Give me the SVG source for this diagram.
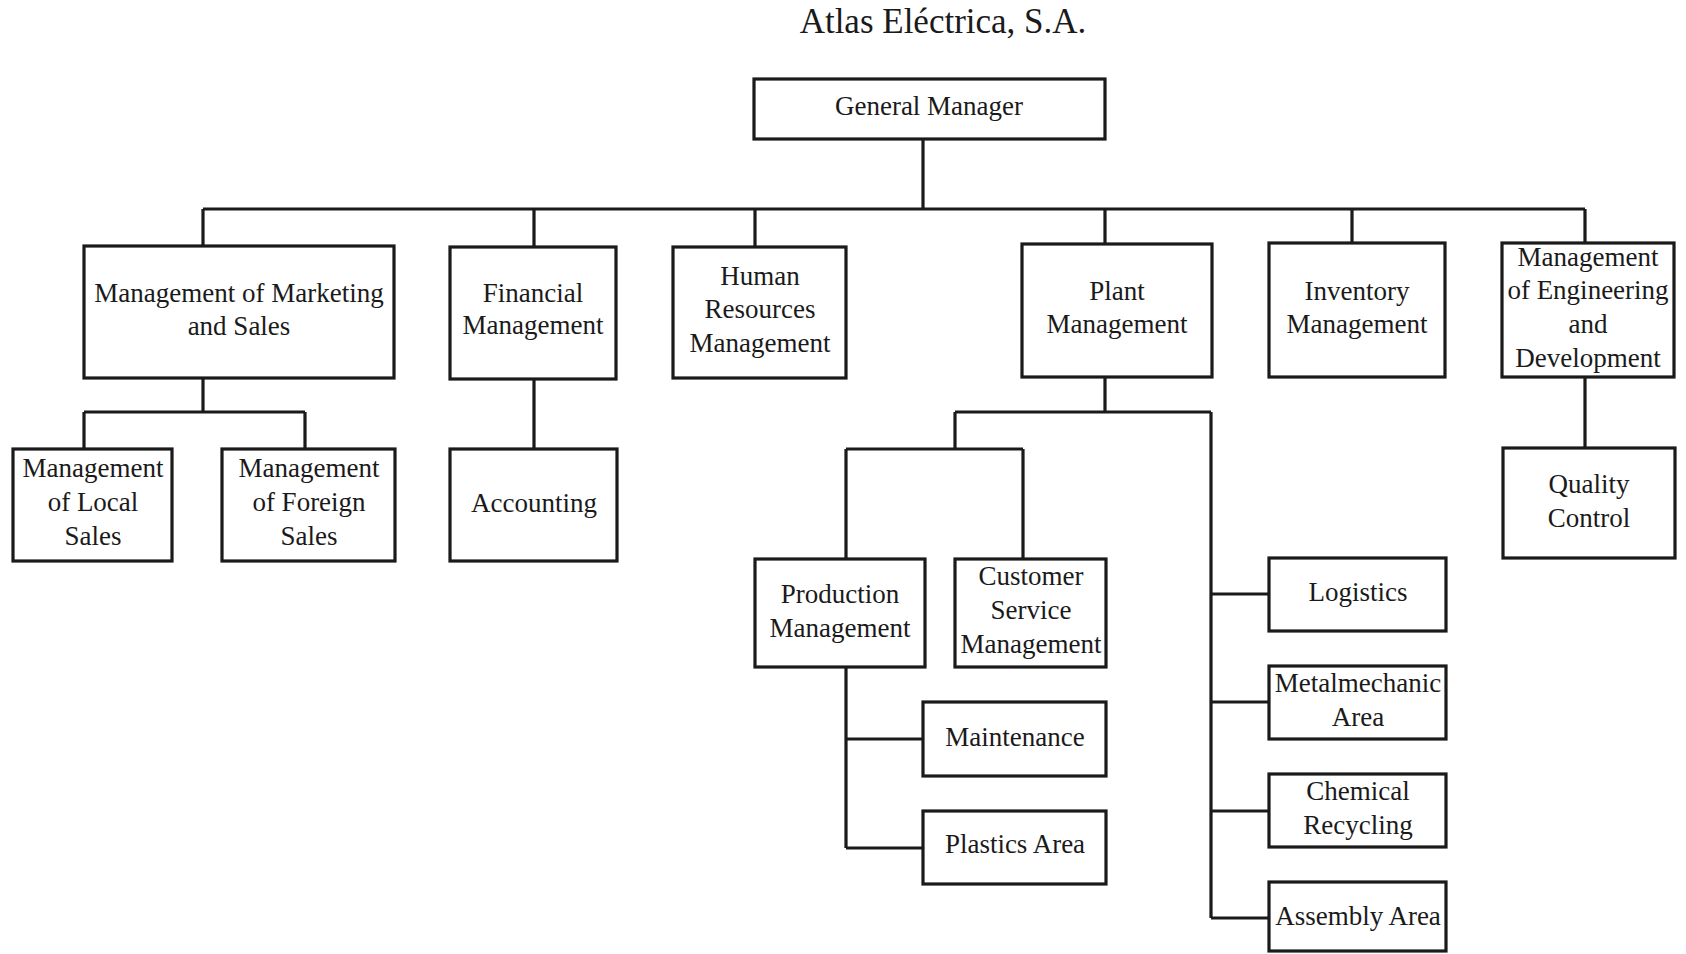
<svg xmlns="http://www.w3.org/2000/svg" width="1686" height="954" viewBox="0 0 1686 954">
<style>
.b{fill:#fff;stroke:#1a1a1a;stroke-width:3.2}
.t{font-family:"Liberation Serif","Times New Roman",serif;font-size:27px;fill:#1a1a1a;text-anchor:middle}
.c{fill:none;stroke:#1a1a1a;stroke-width:3.2}
</style>
<rect width="1686" height="954" fill="#fff"/>
<text x="943" y="33" class="t" style="font-size:35px">Atlas Eléctrica, S.A.</text>
<g id="connectors">
<path class="c" d="M923,139V209M203,209H1585M203,209V246M534,209V247M755,209V247M1105,209V244M1352,209V243M1585,209V243"/>
<path class="c" d="M203,378V412M84,412H305M84,412V449M305,412V449M534,379V449"/>
<path class="c" d="M1105,377V412M955,412H1211M955,412V449M846,449H1023M846,449V559M1023,449V559"/>
<path class="c" d="M1211,412V918M1211,594H1269M1211,702H1269M1211,811H1269M1211,918H1269"/>
<path class="c" d="M846,667V848M846,739H923M846,848H923M1585,377V448"/>
</g>
<g id="gm"><rect class="b" x="754" y="79" width="351" height="60"/><text class="t" x="929" y="115">General Manager</text></g>
<g id="mkt"><rect class="b" x="84" y="246" width="310" height="132"/><text class="t" x="239" y="302">Management of Marketing</text><text class="t" x="239" y="335">and Sales</text></g>
<g id="fin"><rect class="b" x="450" y="247" width="166" height="132"/><text class="t" x="533" y="302">Financial</text><text class="t" x="533" y="334">Management</text></g>
<g id="hr"><rect class="b" x="673" y="247" width="173" height="131"/><text class="t" x="760" y="285">Human</text><text class="t" x="760" y="318">Resources</text><text class="t" x="760" y="352">Management</text></g>
<g id="plant"><rect class="b" x="1022" y="244" width="190" height="133"/><text class="t" x="1117" y="300">Plant</text><text class="t" x="1117" y="333">Management</text></g>
<g id="inv"><rect class="b" x="1269" y="243" width="176" height="134"/><text class="t" x="1357" y="300">Inventory</text><text class="t" x="1357" y="333">Management</text></g>
<g id="eng"><rect class="b" x="1502" y="243" width="172" height="134"/><text class="t" x="1588" y="266">Management</text><text class="t" x="1588" y="299">of Engineering</text><text class="t" x="1588" y="333">and</text><text class="t" x="1588" y="367">Development</text></g>
<g id="local"><rect class="b" x="13" y="449" width="159" height="112"/><text class="t" x="93" y="477">Management</text><text class="t" x="93" y="511">of Local</text><text class="t" x="93" y="545">Sales</text></g>
<g id="foreign"><rect class="b" x="222" y="449" width="173" height="112"/><text class="t" x="309" y="477">Management</text><text class="t" x="309" y="511">of Foreign</text><text class="t" x="309" y="545">Sales</text></g>
<g id="acct"><rect class="b" x="450" y="449" width="167" height="112"/><text class="t" x="534" y="512">Accounting</text></g>
<g id="prod"><rect class="b" x="755" y="559" width="170" height="108"/><text class="t" x="840" y="603">Production</text><text class="t" x="840" y="637">Management</text></g>
<g id="cust"><rect class="b" x="955" y="559" width="151" height="108"/><text class="t" x="1031" y="585">Customer</text><text class="t" x="1031" y="619">Service</text><text class="t" x="1031" y="653">Management</text></g>
<g id="logi"><rect class="b" x="1269" y="558" width="177" height="73"/><text class="t" x="1358" y="601">Logistics</text></g>
<g id="qc"><rect class="b" x="1503" y="448" width="172" height="110"/><text class="t" x="1589" y="493">Quality</text><text class="t" x="1589" y="527">Control</text></g>
<g id="metal"><rect class="b" x="1269" y="666" width="177" height="73"/><text class="t" x="1358" y="692">Metalmechanic</text><text class="t" x="1358" y="726">Area</text></g>
<g id="maint"><rect class="b" x="923" y="702" width="183" height="74"/><text class="t" x="1015" y="746">Maintenance</text></g>
<g id="plast"><rect class="b" x="923" y="811" width="183" height="73"/><text class="t" x="1015" y="853">Plastics Area</text></g>
<g id="chem"><rect class="b" x="1269" y="774" width="177" height="73"/><text class="t" x="1358" y="800">Chemical</text><text class="t" x="1358" y="834">Recycling</text></g>
<g id="asm"><rect class="b" x="1269" y="882" width="177" height="69"/><text class="t" x="1358" y="925">Assembly Area</text></g>
</svg>
